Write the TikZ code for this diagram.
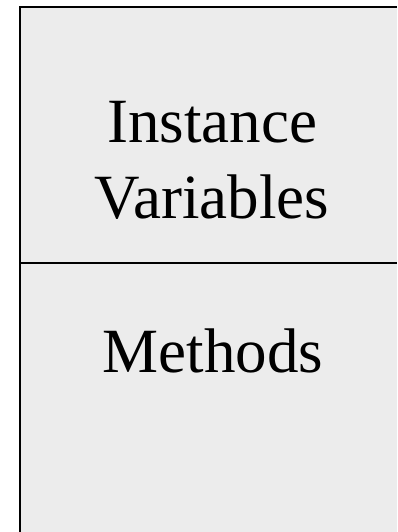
\documentclass[tikz,border=0pt]{standalone}
\usepackage{fontspec}
\setmainfont{Liberation Serif}
\definecolor{panel}{HTML}{ECECEC}
\begin{document}
\begin{tikzpicture}[x=1pt,y=-1pt,
  border/.style={line width=2pt, draw=black},
  label/.style={anchor=base, inner sep=0pt, font=\fontsize{63}{76}\selectfont}]
\useasboundingbox (0,0) rectangle (397,532);
\fill[panel] (20,7) rectangle (397,532);
\coordinate (bl) at (20,532);
\coordinate (tl) at (20,7);
\coordinate (tr) at (397,7);
\coordinate (dl) at (20,263);
\coordinate (dr) at (397,263);
\draw[border] (bl) -- (tl) -- (tr);
\draw[border] (dl) -- (dr);
\node[label] (inst) at (212,142) {Instance};
\node[label] (vars) at (212,218) {Variables};
\node[label] (meth) at (213,372) {Methods};
\end{tikzpicture}
\end{document}
